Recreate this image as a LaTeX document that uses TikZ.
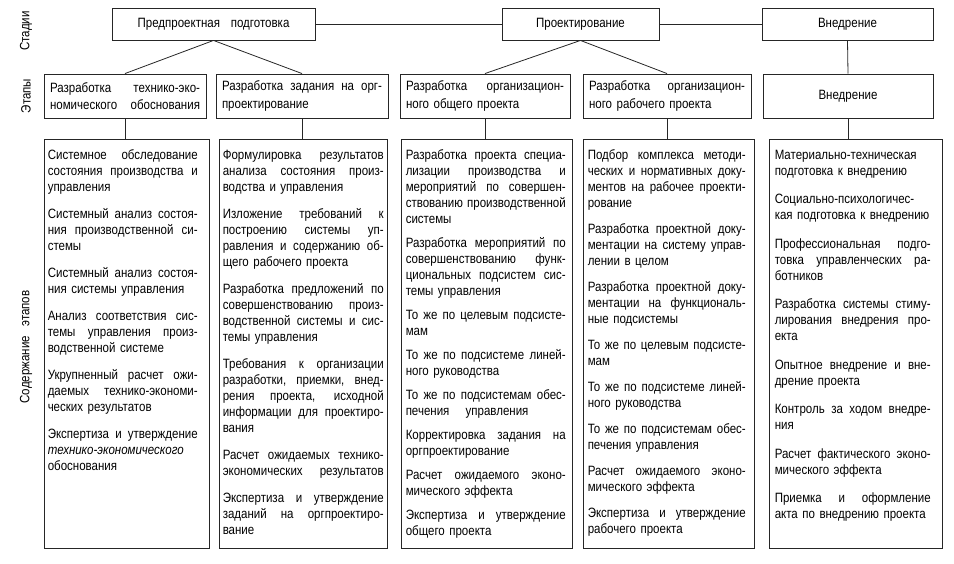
\documentclass[tikz,border=0pt]{standalone}
\usepackage{fontspec}
\setmainfont[FakeStretch=0.853]{Liberation Sans}
\newcommand\jl[1]{{\spaceskip=0pt\xspaceskip=0pt\makebox[\hsize][s]{#1}}}
\newcommand\bodyfnt{\fontsize{13.5}{16}\selectfont}
\newcommand\stagefnt{\fontsize{13.5}{17.5}\selectfont}
\tikzset{
  x=1pt, y=-1pt,
  box/.style={draw=black!85, line width=0.9pt, inner sep=0pt},
  tbox/.style={box, minimum height=32pt, font=\stagefnt},
  sbox/.style={box, minimum height=44pt, inner xsep=6pt, inner ysep=0pt, align=left, font=\stagefnt},
  cbox/.style={box, minimum height=409pt},
  ctext/.style={anchor=base west, inner sep=0pt, align=left, font=\bodyfnt},
  side/.style={rotate=90, font=\stagefnt, inner sep=0pt},
  conn/.style={line width=0.8pt, draw=black!85}
}
\begin{document}
\begin{tikzpicture}
\useasboundingbox (0,0) rectangle (954,564);

% side labels
\node[side] (l1) at (26,31) {Стадии};
\node[side] (l2) at (26,96) {Этапы};
\node[side] (l3) at (26,347) {Содержание\hspace{0.7em}этапов};

% stages
\node[tbox, minimum width=203pt] (t1) at (213.5,24) {Предпроектная\hspace{0.8em}подготовка};
\node[tbox, minimum width=157pt] (t2) at (580.5,24) {Проектирование};
\node[tbox, minimum width=171pt] (t3) at (847.5,24) {Внедрение};

% steps
\node[sbox, text width=150pt] (s1) at (125,96) {\jl{Разработка технико-эко-}\\\jl{номического обоснования}};
\node[sbox, text width=160pt] (s2) at (302,96) {\jl{Разработка задания на орг-}\\проектирование};
\node[sbox, text width=158pt] (s3) at (485,96) {\jl{Разработка организацион-}\\ного общего проекта};
\node[sbox, text width=156pt] (s4) at (667,96) {\jl{Разработка организацион-}\\ного рабочего проекта};
\node[sbox, text width=158pt, align=center] (s5) at (848,96) {Внедрение};

% content boxes
\node[cbox, minimum width=165pt] (c1) at (126.5,343.5) {};
\node[cbox, minimum width=168pt] (c2) at (303,343.5) {};
\node[cbox, minimum width=171pt] (c3) at (486.5,343.5) {};
\node[cbox, minimum width=171pt] (c4) at (668.5,343.5) {};
\node[cbox, minimum width=173pt] (c5) at (855.5,343.5) {};

% connectors
\draw[conn] (t1) -- (t2);
\draw[conn] (t2) -- (t3);
\draw[conn] (t1.south) -- (s1.north);
\draw[conn] (t1.south) -- (s2.north);
\draw[conn] (t2.south) -- (s3.north);
\draw[conn] (t2.south) -- (s4.north);
\draw[conn] (t3.south) -- (s5.north);
\draw[conn] (s1.south) -- (s1.south |- c1.north);
\draw[conn] (s2.south) -- (s2.south |- c2.north);
\draw[conn] (s3.south) -- (s3.south |- c3.north);
\draw[conn] (s4.south) -- (s4.south |- c4.north);
\draw[conn] (s5.south) -- (s5.south |- c5.north);

% texts
\node[ctext, text width=150pt] (x1) at ([xshift=4pt,yshift=-20.5pt]c1.north west) {%
\jl{Системное обследование}\\
\jl{состояния производства и}\\
управления\\[11pt]
\jl{Системный анализ состоя-}\\
\jl{ния производственной си-}\\
стемы\\[11pt]
\jl{Системный анализ состоя-}\\
\mbox{ния системы управления}\\[11pt]
\jl{Анализ соответствия сис-}\\
\jl{темы управления произ-}\\
водственной системе\\[11pt]
\jl{Укрупненный расчет ожи-}\\
\jl{даемых технико-экономи-}\\
ческих результатов\\[11pt]
\jl{Экспертиза и утверждение}\\
\textit{технико-экономического}\\
обоснования};

\node[ctext, text width=161pt] (x2) at ([xshift=4pt,yshift=-20.5pt]c2.north west) {%
\jl{Формулировка результатов}\\
\jl{анализа состояния произ-}\\
водства и управления\\[11pt]
\jl{Изложение требований к}\\
\jl{построению системы уп-}\\
\jl{равления и содержанию об-}\\
щего рабочего проекта\\[11pt]
\jl{Разработка предложений по}\\
\jl{совершенствованию произ-}\\
\jl{водственной системы и сис-}\\
темы управления\\[11pt]
\jl{Требования к организации}\\
\jl{разработки, приемки, внед-}\\
\jl{рения проекта, исходной}\\
\jl{информации для проектиро-}\\
вания\\[11pt]
\jl{Расчет ожидаемых технико-}\\
\jl{экономических результатов}\\[11pt]
\jl{Экспертиза и утверждение}\\
\jl{заданий на оргпроектиро-}\\
вание};

\node[ctext, text width=160pt] (x3) at ([xshift=5pt,yshift=-20.5pt]c3.north west) {%
\jl{Разработка проекта специа-}\\
\jl{лизации производства и}\\
\jl{мероприятий по совершен-}\\
\jl{ствованию производственной}\\
системы\\[8pt]
\jl{Разработка мероприятий по}\\
\jl{совершенствованию функ-}\\
\jl{циональных подсистем сис-}\\
темы управления\\[8pt]
\jl{То же по целевым подсисте-}\\
мам\\[8pt]
\jl{То же по подсистеме линей-}\\
ного руководства\\[8pt]
\jl{То же по подсистемам обес-}\\
печения\hspace{1.2em}управления\\[8pt]
\jl{Корректировка задания на}\\
оргпроектирование\\[8pt]
\jl{Расчет ожидаемого эконо-}\\
мического эффекта\\[8pt]
\jl{Экспертиза и утверждение}\\
общего проекта};

\node[ctext, text width=158pt] (x4) at ([xshift=5pt,yshift=-20.5pt]c4.north west) {%
\jl{Подбор комплекса методи-}\\
\jl{ческих и нормативных доку-}\\
\jl{ментов на рабочее проекти-}\\
рование\\[10pt]
\jl{Разработка проектной доку-}\\
\jl{ментации на систему управ-}\\
лении в целом\\[10pt]
\jl{Разработка проектной доку-}\\
\jl{ментации на функциональ-}\\
ные подсистемы\\[10pt]
\jl{То же по целевым подсисте-}\\
мам\\[10pt]
\jl{То же по подсистеме линей-}\\
ного руководства\\[10pt]
\jl{То же по подсистемам обес-}\\
печения управления\\[10pt]
\jl{Расчет ожидаемого эконо-}\\
мического эффекта\\[10pt]
\jl{Экспертиза и утверждение}\\
рабочего проекта};

\node[ctext, text width=156pt] (x5) at ([xshift=6pt,yshift=-20.5pt]c5.north west) {%
\jl{Материально-техническая}\\
подготовка к внедрению\\[12.5pt]
\jl{Социально-психологичес-}\\
\mbox{кая подготовка к внедрению}\\[12.5pt]
\jl{Профессиональная подго-}\\
\jl{товка управленческих ра-}\\
ботников\\[12.5pt]
\jl{Разработка системы стиму-}\\
\jl{лирования внедрения про-}\\
екта\\[12.5pt]
\jl{Опытное внедрение и вне-}\\
дрение проекта\\[12.5pt]
\jl{Контроль за ходом внедре-}\\
ния\\[12.5pt]
\jl{Расчет фактического эконо-}\\
мического эффекта\\[12.5pt]
\jl{Приемка и оформление}\\
\mbox{акта по внедрению проекта}};
\end{tikzpicture}
\end{document}
